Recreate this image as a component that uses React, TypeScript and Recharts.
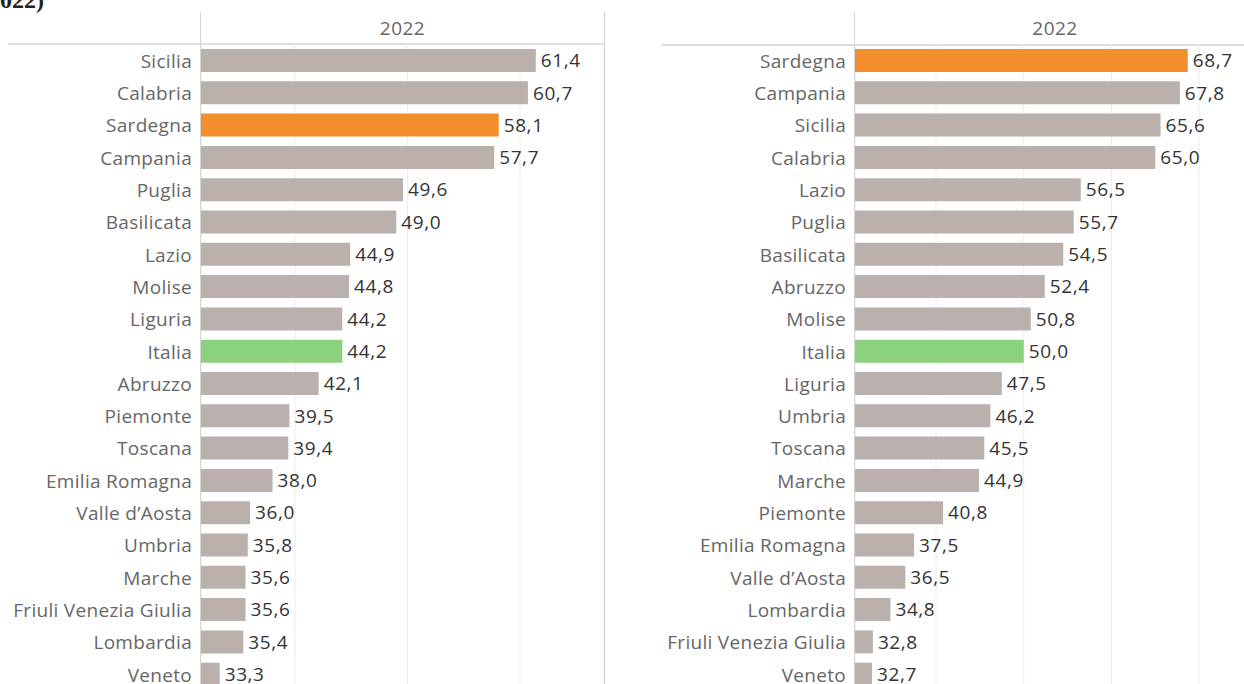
import React from "react";
import { BarChart, Bar, XAxis, YAxis, CartesianGrid, Cell, LabelList } from "recharts";

// 2022 values, left panel
const LEFT_REGIONS = [
  "Sicilia", "Calabria", "Sardegna", "Campania", "Puglia", "Basilicata", "Lazio",
  "Molise", "Liguria", "Italia", "Abruzzo", "Piemonte", "Toscana", "Emilia Romagna",
  "Valle d’Aosta", "Umbria", "Marche", "Friuli Venezia Giulia", "Lombardia", "Veneto",
];
const LEFT_VALUES = [
  61.4, 60.7, 58.1, 57.7, 49.6, 49.0, 44.9, 44.8, 44.2, 44.2,
  42.1, 39.5, 39.4, 38.0, 36.0, 35.8, 35.6, 35.6, 35.4, 33.3,
];

// 2022 values, right panel
const RIGHT_REGIONS = [
  "Sardegna", "Campania", "Sicilia", "Calabria", "Lazio", "Puglia", "Basilicata",
  "Abruzzo", "Molise", "Italia", "Liguria", "Umbria", "Toscana", "Marche", "Piemonte",
  "Emilia Romagna", "Valle d’Aosta", "Lombardia", "Friuli Venezia Giulia", "Veneto",
];
const RIGHT_VALUES = [
  68.7, 67.8, 65.6, 65.0, 56.5, 55.7, 54.5, 52.4, 50.8, 50.0,
  47.5, 46.2, 45.5, 44.9, 40.8, 37.5, 36.5, 34.8, 32.8, 32.7,
];

const LEFT_TICKS = [40, 50, 60];
const RIGHT_TICKS = [40, 50, 60, 70];
const YEAR = "2022";

const GRAY = "#bab0ac";
const ORANGE = "#f28e2b";
const GREEN = "#8cd17d";
const FONT = "'Open Sans', sans-serif";

const barColor = (name: string) =>
  name === "Sardegna" ? ORANGE : name === "Italia" ? GREEN : GRAY;

const fmt = (v: number) => v.toFixed(1).replace(".", ",");

function Panel({
  names,
  values,
  ticks,
  domain,
  left,
  width,
  axisWidth,
}: {
  names: string[];
  values: number[];
  ticks: number[];
  domain: [number, number];
  left: number;
  width: number;
  axisWidth: number;
}) {
  const data = names.map((name, i) => ({ name, value: values[i] }));
  return (
    <div style={{ position: "absolute", left, top: 0, width, height: 690 }}>
      <BarChart
        width={width}
        height={690}
        data={data}
        layout="vertical"
        margin={{ top: 44, right: 0, bottom: 0, left: 0 }}
      >
        <CartesianGrid horizontal={false} stroke="#ececec" />
        <XAxis
          type="number"
          domain={domain}
          ticks={ticks}
          allowDataOverflow
          hide
        />
        <YAxis
          type="category"
          dataKey="name"
          width={axisWidth}
          tickLine={false}
          axisLine={false}
          tickMargin={3}
          interval={0}
          tick={{ fontSize: 19, fill: "#666", fontFamily: FONT, letterSpacing: 0.3, dy: 1 }}
        />
        <Bar dataKey="value" barSize={23} isAnimationActive={false}>
          {data.map((d) => (
            <Cell key={d.name} fill={barColor(d.name)} />
          ))}
          <LabelList
            dataKey="value"
            position="right"
            offset={5}
            formatter={(v: number) => fmt(v)}
            style={{ fontSize: 19, fill: "#333", fontFamily: FONT, letterSpacing: 0.6 }}
          />
        </Bar>
      </BarChart>
      {/* header frame */}
      <div
        style={{
          position: "absolute",
          left: axisWidth - 1,
          top: 12,
          width: 1,
          height: 680,
          background: "#d4d4d4",
        }}
      />
      <div
        style={{
          position: "absolute",
          left: axisWidth,
          top: 15,
          width: width - axisWidth,
          textAlign: "center",
          fontFamily: FONT,
          fontSize: 19,
          letterSpacing: 0.5,
          color: "#666",
        }}
      >
        {YEAR}
      </div>
    </div>
  );
}

export default function App() {
  return (
    <div
      style={{
        position: "absolute",
        left: 0,
        top: 0,
        width: 1244,
        height: 684,
        overflow: "hidden",
        background: "#fff",
      }}
    >
      <div
        style={{
          position: "absolute",
          left: -60,
          top: -13,
          width: 104,
          textAlign: "right",
          whiteSpace: "nowrap",
          fontFamily: "'Times New Roman', 'Liberation Serif', serif",
          fontWeight: "bold",
          fontSize: 24,
          color: "#222",
        }}
      >
        (2022)
      </div>
      <div style={{ position: "absolute", left: 8, top: 43, width: 597, height: 2, background: "#ddd" }} />
      <div style={{ position: "absolute", left: 661, top: 44, width: 600, height: 2, background: "#ddd" }} />
      <div style={{ position: "absolute", left: 604, top: 12, width: 1, height: 680, background: "#d4d4d4" }} />
      <Panel
        names={LEFT_REGIONS}
        values={LEFT_VALUES}
        ticks={LEFT_TICKS}
        domain={[31.64, 67.46]}
        left={0}
        width={604}
        axisWidth={201}
      />
      <Panel
        names={RIGHT_REGIONS}
        values={RIGHT_VALUES}
        ticks={RIGHT_TICKS}
        domain={[30.76, 76.37]}
        left={620}
        width={635}
        axisWidth={235}
      />
    </div>
  );
}
